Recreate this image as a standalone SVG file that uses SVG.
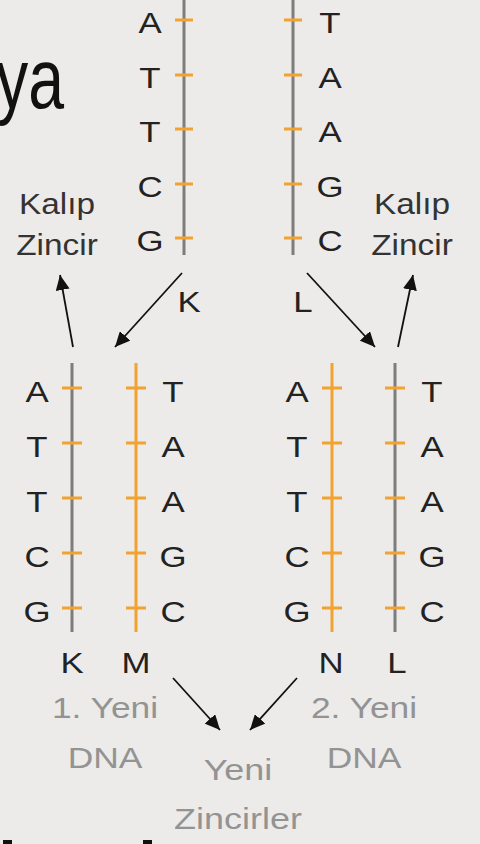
<svg xmlns="http://www.w3.org/2000/svg" width="480" height="844" viewBox="0 0 480 844">
<defs>
<style>
.t{font-family:"Liberation Sans",Arial,sans-serif;font-size:29px;fill:#222;text-anchor:middle}
.k{fill:#333}
.g{fill:#939393}
.gs{stroke:#7d7d7d;stroke-width:3;fill:none}
.os{stroke:#f2a22e;stroke-width:3;fill:none}
.tk{stroke:#f2a22e;stroke-width:3}
.ar{stroke:#111;stroke-width:1.8;fill:none;marker-end:url(#ah)}
</style>
<marker id="ah" markerUnits="userSpaceOnUse" markerWidth="16" markerHeight="14" refX="15" refY="7" orient="auto">
<path d="M0,0 L15,7 L0,14 z" fill="#111"/>
</marker>
</defs>
<rect width="480" height="844" fill="#ecebe9"/>
<text x="-4" y="108" font-family="'Liberation Sans',Arial,sans-serif" font-size="86" fill="#111" textLength="68" lengthAdjust="spacingAndGlyphs">ya</text>

<g id="strand-top-left">
<line class="gs" x1="184" y1="0" x2="184" y2="255"/>
<g class="tk"><line x1="175" y1="20" x2="193" y2="20"/><line x1="175" y1="75" x2="193" y2="75"/><line x1="175" y1="129" x2="193" y2="129"/><line x1="175" y1="184" x2="193" y2="184"/><line x1="175" y1="238" x2="193" y2="238"/></g>
<g transform="translate(150,0) scale(1.2,1)"><text class="t" x="0" y="33">A</text><text class="t" x="0" y="88">T</text><text class="t" x="0" y="142">T</text><text class="t" x="0" y="197">C</text><text class="t" x="0" y="251">G</text></g>
</g>
<g id="strand-top-right">
<line class="gs" x1="293" y1="0" x2="293" y2="255"/>
<g class="tk"><line x1="284" y1="20" x2="302" y2="20"/><line x1="284" y1="75" x2="302" y2="75"/><line x1="284" y1="129" x2="302" y2="129"/><line x1="284" y1="184" x2="302" y2="184"/><line x1="284" y1="238" x2="302" y2="238"/></g>
<g transform="translate(330,0) scale(1.2,1)"><text class="t" x="0" y="33">T</text><text class="t" x="0" y="88">A</text><text class="t" x="0" y="142">A</text><text class="t" x="0" y="197">G</text><text class="t" x="0" y="251">C</text></g>
</g>
<g id="label-kalip-left" transform="translate(57,0) scale(1.15,1)"><text class="t k" x="0" y="214">Kalıp</text><text class="t k" x="0" y="255">Zincir</text></g>
<g id="label-kalip-right" transform="translate(412,0) scale(1.15,1)"><text class="t k" x="0" y="214">Kalıp</text><text class="t k" x="0" y="255">Zincir</text></g>
<g id="label-K" transform="translate(189,0) scale(1.2,1)"><text class="t" x="0" y="312">K</text></g>
<g id="label-L" transform="translate(303,0) scale(1.2,1)"><text class="t" x="0" y="312">L</text></g>

<g id="dna1">
<line class="gs" x1="72" y1="363" x2="72" y2="632"/>
<line class="os" x1="136" y1="363" x2="136" y2="632"/>
<g class="tk"><line x1="62" y1="388" x2="82" y2="388"/><line x1="62" y1="443" x2="82" y2="443"/><line x1="62" y1="498" x2="82" y2="498"/><line x1="62" y1="553" x2="82" y2="553"/><line x1="62" y1="608" x2="82" y2="608"/>
<line x1="126" y1="388" x2="146" y2="388"/><line x1="126" y1="443" x2="146" y2="443"/><line x1="126" y1="498" x2="146" y2="498"/><line x1="126" y1="553" x2="146" y2="553"/><line x1="126" y1="608" x2="146" y2="608"/></g>
<g transform="translate(37,0) scale(1.2,1)"><text class="t" x="0" y="402">A</text><text class="t" x="0" y="457">T</text><text class="t" x="0" y="512">T</text><text class="t" x="0" y="567">C</text><text class="t" x="0" y="622">G</text></g>
<g transform="translate(173,0) scale(1.2,1)"><text class="t" x="0" y="402">T</text><text class="t" x="0" y="457">A</text><text class="t" x="0" y="512">A</text><text class="t" x="0" y="567">G</text><text class="t" x="0" y="622">C</text></g>
<g transform="translate(72,0) scale(1.2,1)"><text class="t" x="0" y="673">K</text></g>
<g transform="translate(136,0) scale(1.2,1)"><text class="t" x="0" y="673">M</text></g>
</g>
<g id="dna2">
<line class="os" x1="332" y1="363" x2="332" y2="632"/>
<line class="gs" x1="395" y1="363" x2="395" y2="632"/>
<g class="tk"><line x1="322" y1="388" x2="342" y2="388"/><line x1="322" y1="443" x2="342" y2="443"/><line x1="322" y1="498" x2="342" y2="498"/><line x1="322" y1="553" x2="342" y2="553"/><line x1="322" y1="608" x2="342" y2="608"/>
<line x1="385" y1="388" x2="405" y2="388"/><line x1="385" y1="443" x2="405" y2="443"/><line x1="385" y1="498" x2="405" y2="498"/><line x1="385" y1="553" x2="405" y2="553"/><line x1="385" y1="608" x2="405" y2="608"/></g>
<g transform="translate(297,0) scale(1.2,1)"><text class="t" x="0" y="402">A</text><text class="t" x="0" y="457">T</text><text class="t" x="0" y="512">T</text><text class="t" x="0" y="567">C</text><text class="t" x="0" y="622">G</text></g>
<g transform="translate(432,0) scale(1.2,1)"><text class="t" x="0" y="402">T</text><text class="t" x="0" y="457">A</text><text class="t" x="0" y="512">A</text><text class="t" x="0" y="567">G</text><text class="t" x="0" y="622">C</text></g>
<g transform="translate(331,0) scale(1.2,1)"><text class="t" x="0" y="673">N</text></g>
<g transform="translate(397,0) scale(1.2,1)"><text class="t" x="0" y="673">L</text></g>
</g>

<g id="label-dna1" transform="translate(105,0) scale(1.22,1)"><text class="t g" x="0" y="718">1. Yeni</text><text class="t g" x="0" y="768">DNA</text></g>
<g id="label-dna2" transform="translate(364,0) scale(1.22,1)"><text class="t g" x="0" y="718">2. Yeni</text><text class="t g" x="0" y="768">DNA</text></g>
<g id="label-yeni-zincirler" transform="translate(238,0) scale(1.24,1)"><text class="t g" x="0" y="780">Yeni</text><text class="t g" x="0" y="829">Zincirler</text></g>

<g id="connectors">
<line class="ar" x1="73" y1="347" x2="60" y2="275"/>
<line class="ar" x1="182" y1="273" x2="115" y2="347"/>
<line class="ar" x1="307" y1="273" x2="375" y2="347"/>
<line class="ar" x1="398" y1="347" x2="413" y2="275"/>
<line class="ar" x1="173" y1="678" x2="220" y2="730"/>
<line class="ar" x1="297" y1="678" x2="250" y2="730"/>
</g>
<rect x="3" y="840" width="9" height="4" fill="#111"/>
<rect x="143" y="840" width="9" height="4" fill="#111"/>
</svg>
